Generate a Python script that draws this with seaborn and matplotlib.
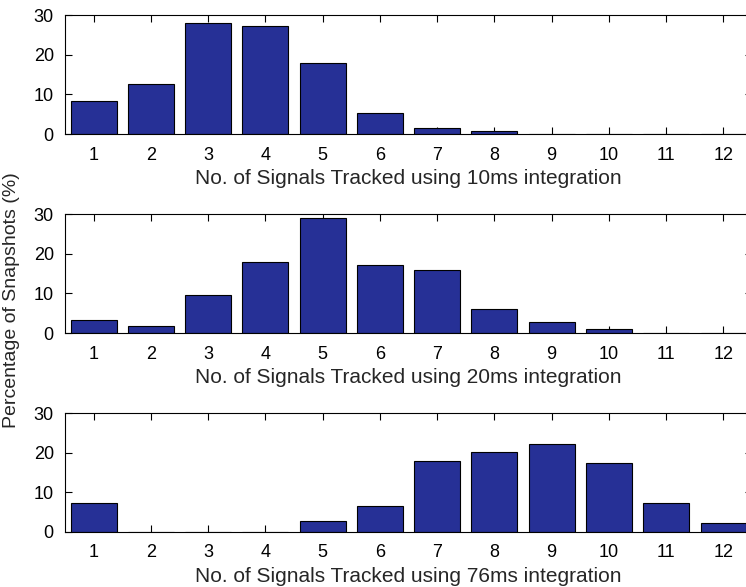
import matplotlib
matplotlib.use("Agg")
import matplotlib.pyplot as plt
import seaborn as sns
import pandas as pd

signals = list(range(1, 13))
pct_10ms = [8.3, 12.6, 28.1, 27.2, 17.9, 5.4, 1.6, 0.7, 0, 0, 0, 0]
pct_20ms = [3.4, 1.7, 9.7, 17.8, 29.0, 17.1, 15.8, 6.1, 2.9, 1.0, 0, 0]
pct_76ms = [7.2, 0, 0, 0, 2.7, 6.6, 17.8, 20.2, 22.1, 17.5, 7.2, 2.2]
xlabels = ["No. of Signals Tracked using 10ms integration",
           "No. of Signals Tracked using 20ms integration",
           "No. of Signals Tracked using 76ms integration"]
yticks = [0, 10, 20, 30]
ylabel = "Percentage of Snapshots (%)"

sns.set_style("white")
plt.rcParams['font.family'] = ['Liberation Sans', 'DejaVu Sans']

fig = plt.figure(figsize=(7.46, 5.87), dpi=100)
bottoms = [0.7717, 0.4327, 0.0937]
series = [pct_10ms, pct_20ms, pct_76ms]
color = "#263096"

for b, vals, xl in zip(bottoms, series, xlabels):
    ax = fig.add_axes([0.0871, b, 0.921, 0.2027])
    df = pd.DataFrame({"n": signals, "pct": vals})
    sns.barplot(data=df, x="n", y="pct", native_scale=True, color=color,
                saturation=1, edgecolor="black", linewidth=0.8, width=0.8, ax=ax)
    ax.set_xlim(0.5, 12.5)
    ax.set_ylim(0, 30)
    ax.set_xticks(signals)
    ax.set_yticks(yticks)
    ax.set_xlabel(xl, fontsize=15, labelpad=4)
    ax.set_ylabel("")
    ax.tick_params(direction="in", length=5, width=0.8, top=True, right=True,
                   bottom=True, left=True, labelsize=13, colors="black")
    ax.tick_params(axis="x", pad=9)
    ax.tick_params(axis="y", pad=8)
    for s in ax.spines.values():
        s.set_color("black")
        s.set_linewidth(0.8)

fig.text(0.016, 0.489, ylabel, rotation=90, va="center", ha="center", fontsize=14)

fig.savefig("out.png", dpi=100)
